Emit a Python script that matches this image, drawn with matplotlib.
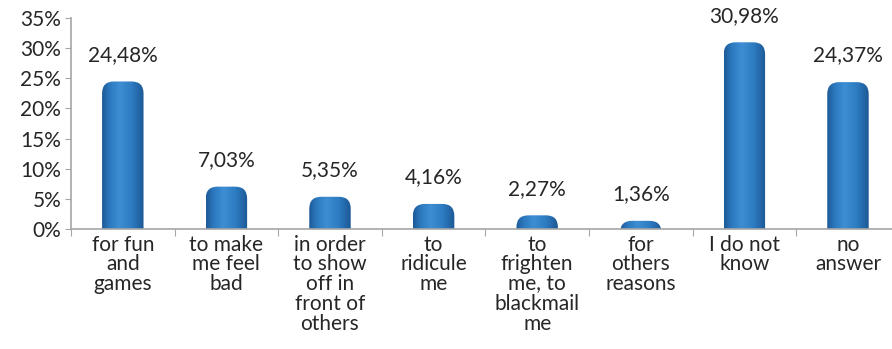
import numpy as np
import matplotlib.pyplot as plt
from matplotlib.patches import FancyBboxPatch
from matplotlib.colors import LinearSegmentedColormap

categories = ['for fun\nand\ngames', 'to make\nme feel\nbad',
              'in order\nto show\noff in\nfront of\nothers',
              'to\nridicule\nme', 'to\nfrighten\nme, to\nblackmail\nme',
              'for\nothers\nreasons', 'I do not\nknow', 'no\nanswer']
values = [24.48, 7.03, 5.35, 4.16, 2.27, 1.36, 30.98, 24.37]
labels = ['24,48%', '7,03%', '5,35%', '4,16%', '2,27%', '1,36%', '30,98%', '24,37%']
yticks = [0, 5, 10, 15, 20, 25, 30, 35]

plt.rcParams['font.family'] = ['Lato', 'DejaVu Sans']
txt = '#262626'
axis_col = '#a6a6a6'
fs = 15

cyl = LinearSegmentedColormap.from_list('cyl', [
    (0.0, '#1d5b97'), (0.18, '#2c79bf'), (0.42, '#3d8ed4'),
    (0.72, '#2d7bc1'), (1.0, '#1c5895')])
grad = np.linspace(0, 1, 64).reshape(1, -1)

fig = plt.figure(figsize=(8.92, 3.49), dpi=100)
ax = fig.add_axes([0.0796, 0.3438, 0.9204, 0.6044])

x = np.arange(len(values))
w = 0.40
r = 0.115          # corner radius in x units
asp = 17.2         # y units per x unit for round corners

for xi, v, lab in zip(x, values, labels):
    x0 = xi - w / 2
    patch = FancyBboxPatch((x0, -4), w, v + 4,
                           boxstyle='round,pad=0,rounding_size=%g' % r,
                           mutation_aspect=asp, fc='none', ec='none')
    ax.add_patch(patch)
    im = ax.imshow(grad, cmap=cyl, aspect='auto', extent=(x0, x0 + w, -4, v),
                   interpolation='bilinear', zorder=2)
    im.set_clip_path(patch)
    ax.annotate(lab, (xi, v), xytext=(0, 12), textcoords='offset points',
                ha='center', va='bottom', fontsize=fs, color=txt)

ax.set_xlim(-0.5, 7.425)
ax.set_ylim(0, 35)

ax.set_yticks(yticks)
ax.set_yticklabels(['%d%%' % t for t in yticks], fontsize=fs, color=txt)
ax.set_xticks(np.arange(-0.5, len(values) - 0.5, 1.0))
ax.set_xticklabels([])
ax.set_xticks(x, minor=True)
ax.set_xticklabels(categories, minor=True, fontsize=fs, color=txt,
                   linespacing=0.99)
ax.tick_params(axis='x', which='minor', length=0, pad=4)
ax.tick_params(axis='x', which='major', length=5, color=axis_col)
ax.tick_params(axis='y', length=4, color=axis_col, pad=3)

for s in ['top', 'right']:
    ax.spines[s].set_visible(False)
for s in ['left', 'bottom']:
    ax.spines[s].set_color(axis_col)
    ax.spines[s].set_linewidth(1.2)
    ax.spines[s].set_zorder(3)

fig.savefig('out.png', dpi=100)
